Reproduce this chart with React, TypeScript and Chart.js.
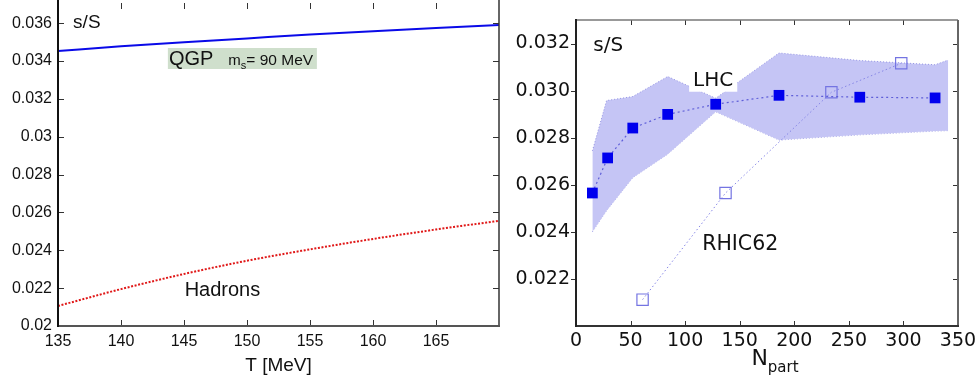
import { useEffect, useRef } from "react";
import { Chart, registerables } from "chart.js";

Chart.register(...registerables);

// ---- Left panel: s/S versus temperature ----
const temperatures = [135, 140, 145, 150, 155, 160, 165, 170];
const qgpRatio = [0.03453, 0.03478, 0.035, 0.0352, 0.0354, 0.03558, 0.03575, 0.03591];
const hadronRatio = [0.02106, 0.02195, 0.02275, 0.02345, 0.02405, 0.0246, 0.0251, 0.02556];
const tempTicks = [135, 140, 145, 150, 155, 160, 165];
const leftRatioTicks = [0.02, 0.022, 0.024, 0.026, 0.028, 0.03, 0.032, 0.034, 0.036];

// ---- Right panel: s/S versus number of participants ----
const lhcNpart = [15, 29, 52, 84, 128, 186, 260, 329];
const lhcRatio = [0.02565, 0.02714, 0.02841, 0.02899, 0.02942, 0.0298, 0.02972, 0.02969];
const rhicNpart = [61, 137, 234, 298];
const rhicRatio = [0.02112, 0.02565, 0.02993, 0.03116];
const bandNpart = [15, 28, 52, 84, 128, 186, 260, 329, 341];
const bandUpper = [0.02744, 0.02958, 0.02975, 0.0306, 0.02968, 0.0316, 0.03128, 0.0311, 0.0313];
const bandLower = [0.024, 0.0249, 0.0263, 0.0273, 0.0291, 0.0279, 0.02812, 0.02828, 0.0283];
const npartTicks = [0, 50, 100, 150, 200, 250, 300, 350];
const rightRatioTicks = [0.022, 0.024, 0.026, 0.028, 0.03, 0.032];

const LEFT_FONT = '"Liberation Sans", Arial, sans-serif';
const RIGHT_FONT = '"DejaVu Sans", sans-serif';
const INK = "#111";

type Side = { color: string; width: number };

function drawFrame(
  chart: any,
  sides: { left: Side; right: Side; top: Side | null; bottom: Side },
  xTicks: number[],
  yTicks: number[],
  tickLen: number,
  leftOutward: boolean
) {
  const { ctx, chartArea: a, scales } = chart;
  const xs = scales.x;
  const ys = scales.y;
  ctx.save();
  ctx.lineCap = "butt";
  // tick marks
  ctx.strokeStyle = "#333";
  ctx.lineWidth = 1;
  for (const v of yTicks) {
    const py = Math.round(ys.getPixelForValue(v)) + 0.5;
    ctx.beginPath();
    if (leftOutward) {
      ctx.moveTo(a.left - tickLen, py);
      ctx.lineTo(a.left, py);
    } else {
      ctx.moveTo(a.left, py);
      ctx.lineTo(a.left + tickLen, py);
    }
    ctx.moveTo(a.right, py);
    ctx.lineTo(a.right - tickLen, py);
    ctx.stroke();
  }
  for (const v of xTicks) {
    const px = Math.round(xs.getPixelForValue(v)) + 0.5;
    ctx.beginPath();
    ctx.moveTo(px, a.bottom);
    ctx.lineTo(px, a.bottom - tickLen);
    ctx.moveTo(px, a.top);
    ctx.lineTo(px, a.top + tickLen);
    ctx.stroke();
  }
  // frame
  const line = (s: Side, x1: number, y1: number, x2: number, y2: number) => {
    ctx.strokeStyle = s.color;
    ctx.lineWidth = s.width;
    ctx.beginPath();
    ctx.moveTo(x1, y1);
    ctx.lineTo(x2, y2);
    ctx.stroke();
  };
  if (sides.top) line(sides.top, a.left, a.top, a.right, a.top);
  line(sides.right, a.right, sides.top ? a.top : 0, a.right, a.bottom);
  line(sides.bottom, a.left, a.bottom, a.right + 1, a.bottom);
  line(sides.left, a.left, sides.top ? a.top - 1 : 0, a.left, a.bottom + 1);
  ctx.restore();
}

const leftDecor = {
  id: "leftDecor",
  afterDatasetsDraw(chart: any) {
    const { ctx, chartArea: a, scales } = chart;
    const xs = scales.x;
    const ys = scales.y;
    ctx.save();
    ctx.fillStyle = INK;
    ctx.textBaseline = "middle";
    ctx.textAlign = "left";

    ctx.font = `19px ${LEFT_FONT}`;
    ctx.fillText("s/S", xs.getPixelForValue(136.2), ys.getPixelForValue(0.036));

    // QGP label on a tinted box
    const qx = xs.getPixelForValue(143.8);
    const qy = ys.getPixelForValue(0.03411);
    ctx.fillStyle = "#cfdfcc";
    ctx.fillRect(qx - 1, qy - 11, 149, 21);
    ctx.fillStyle = INK;
    ctx.font = `20px ${LEFT_FONT}`;
    ctx.fillText("QGP", qx, qy);
    let cx = qx + ctx.measureText("QGP").width + 15;
    ctx.textBaseline = "alphabetic";
    ctx.font = `15px ${LEFT_FONT}`;
    ctx.fillText("m", cx, qy + 5.5);
    cx += ctx.measureText("m").width;
    ctx.font = `11px ${LEFT_FONT}`;
    ctx.fillText("s", cx, qy + 9.5);
    cx += ctx.measureText("s").width;
    ctx.font = `15.5px ${LEFT_FONT}`;
    ctx.fillText("= 90 MeV", cx, qy + 5.5);

    ctx.textBaseline = "middle";
    ctx.font = `20px ${LEFT_FONT}`;
    ctx.fillText("Hadrons", xs.getPixelForValue(145.05), ys.getPixelForValue(0.02188));

    ctx.textAlign = "center";
    ctx.textBaseline = "alphabetic";
    ctx.font = `19px ${LEFT_FONT}`;
    ctx.fillText("T [MeV]", (a.left + a.right) / 2, a.bottom + 45);
    ctx.restore();
  },
  afterDraw(chart: any) {
    drawFrame(
      chart,
      {
        left: { color: "#111", width: 2 },
        right: { color: "#333", width: 1.5 },
        top: null,
        bottom: { color: "#555", width: 2 },
      },
      tempTicks,
      leftRatioTicks,
      6,
      false
    );
  },
};

const rightDecor = {
  id: "rightDecor",
  afterDatasetsDraw(chart: any) {
    const { ctx, chartArea: a, scales } = chart;
    const xs = scales.x;
    const ys = scales.y;
    ctx.save();
    ctx.fillStyle = INK;
    ctx.textBaseline = "middle";
    ctx.textAlign = "left";

    ctx.font = `20px ${RIGHT_FONT}`;
    ctx.fillText("s/S", xs.getPixelForValue(15.8), ys.getPixelForValue(0.0319));

    // LHC label sits on a white patch above the band
    const lx = xs.getPixelForValue(107.3);
    const ly = ys.getPixelForValue(0.03042);
    ctx.font = `20px ${RIGHT_FONT}`;
    const lw = ctx.measureText("LHC").width;
    ctx.fillStyle = "#fff";
    ctx.fillRect(lx - 4, ly - 15, lw + 8, 26);
    ctx.fillStyle = INK;
    ctx.fillText("LHC", lx, ly);

    ctx.font = `20.5px ${RIGHT_FONT}`;
    ctx.fillText("RHIC62", xs.getPixelForValue(115.6), ys.getPixelForValue(0.02346));

    // axis title N_part
    ctx.textBaseline = "alphabetic";
    ctx.font = `22px ${RIGHT_FONT}`;
    const nw = ctx.measureText("N").width;
    ctx.font = `15px ${RIGHT_FONT}`;
    const pw = ctx.measureText("part").width;
    const start = (a.left + a.right) / 2 + 8 - (nw + pw) / 2;
    ctx.font = `22px ${RIGHT_FONT}`;
    ctx.fillText("N", start, a.bottom + 39);
    ctx.font = `15px ${RIGHT_FONT}`;
    ctx.fillText("part", start + nw, a.bottom + 46);
    ctx.restore();
  },
  afterDraw(chart: any) {
    drawFrame(
      chart,
      {
        left: { color: "#222", width: 2 },
        right: { color: "#666", width: 2 },
        top: { color: "#777", width: 1.5 },
        bottom: { color: "#333", width: 2 },
      },
      npartTicks,
      rightRatioTicks,
      5,
      true
    );
  },
};

function fixedTicks(values: number[]) {
  return (scale: any) => {
    scale.ticks = values.map((v) => ({ value: v }));
  };
}

// Fixed axis box sizes, with no extra room reserved for overhanging labels
function fixHeight(h: number) {
  return (s: any) => {
    s.height = h;
    s.paddingLeft = 0;
    s.paddingRight = 0;
    s.paddingTop = 0;
    s.paddingBottom = 0;
  };
}
function fixWidth(w: number) {
  return (s: any) => {
    s.width = w;
    s.paddingLeft = 0;
    s.paddingRight = 0;
    s.paddingTop = 0;
    s.paddingBottom = 0;
  };
}

function leftConfig(): any {
  return {
    type: "line",
    data: {
      datasets: [
        {
          data: temperatures.map((t, i) => ({ x: t, y: qgpRatio[i] })),
          borderColor: "#0a0ae8",
          borderWidth: 2,
          pointRadius: 0,
          tension: 0.4,
          cubicInterpolationMode: "monotone",
          fill: false,
        },
        {
          data: temperatures.map((t, i) => ({ x: t, y: hadronRatio[i] })),
          borderColor: "#e01818",
          borderWidth: 2,
          borderDash: [2, 1.6],
          pointRadius: 0,
          tension: 0.4,
          cubicInterpolationMode: "monotone",
          fill: false,
        },
      ],
    },
    options: {
      animation: false,
      responsive: false,
      maintainAspectRatio: false,
      events: [],
      layout: { padding: { left: 0, right: 6, top: 3, bottom: 0 } },
      plugins: { legend: { display: false }, tooltip: { enabled: false } },
      scales: {
        x: {
          type: "linear",
          min: 135,
          max: 170,
          grid: { display: false, drawTicks: false },
          border: { display: false },
          afterBuildTicks: fixedTicks(tempTicks),
          afterFit: fixHeight(50),
          ticks: {
            padding: 6,
            autoSkip: false,
            maxRotation: 0,
            color: INK,
            font: { family: LEFT_FONT, size: 16 },
            callback: (v: any) => String(v),
          },
        },
        y: {
          type: "linear",
          min: 0.02,
          max: 0.03707,
          grid: { display: false, drawTicks: false },
          border: { display: false },
          afterBuildTicks: fixedTicks(leftRatioTicks),
          afterFit: fixWidth(58),
          ticks: {
            padding: 6,
            autoSkip: false,
            color: INK,
            font: { family: LEFT_FONT, size: 16 },
            callback: (v: any) => String(Number(Number(v).toFixed(3))),
          },
        },
      },
    },
    plugins: [leftDecor],
  };
}

function rightConfig(): any {
  const bandStyle = {
    borderColor: "rgba(125,125,220,0.75)",
    borderWidth: 1,
    borderDash: [1, 2],
    pointRadius: 0,
    tension: 0,
  };
  return {
    type: "line",
    data: {
      datasets: [
        {
          data: lhcNpart.map((n, i) => ({ x: n, y: lhcRatio[i] })),
          borderColor: "#5e5ed8",
          borderWidth: 1.2,
          borderDash: [2, 3],
          pointStyle: "rect",
          pointRadius: 7.6,
          pointBackgroundColor: "#0000ee",
          pointBorderWidth: 0,
          tension: 0,
          fill: false,
        },
        {
          data: rhicNpart.map((n, i) => ({ x: n, y: rhicRatio[i] })),
          borderColor: "#8686e6",
          borderWidth: 1,
          borderDash: [1.5, 2.5],
          pointStyle: "rect",
          pointRadius: 8,
          pointBackgroundColor: "rgba(255,255,255,0)",
          pointBorderColor: "#7474e2",
          pointBorderWidth: 1.2,
          tension: 0,
          fill: false,
        },
        {
          data: bandNpart.map((n, i) => ({ x: n, y: bandUpper[i] })),
          ...bandStyle,
          backgroundColor: "#c5c5f5",
          fill: "+1",
        },
        {
          data: bandNpart.map((n, i) => ({ x: n, y: bandLower[i] })),
          ...bandStyle,
          fill: false,
        },
      ],
    },
    options: {
      animation: false,
      responsive: false,
      maintainAspectRatio: false,
      events: [],
      layout: { padding: { left: 0, right: 20, top: 20, bottom: 0 } },
      plugins: { legend: { display: false }, tooltip: { enabled: false } },
      scales: {
        x: {
          type: "linear",
          min: 0,
          max: 350,
          grid: { display: false, drawTicks: false },
          border: { display: false },
          afterBuildTicks: fixedTicks(npartTicks),
          afterFit: fixHeight(50),
          ticks: {
            padding: 4,
            autoSkip: false,
            maxRotation: 0,
            color: INK,
            font: { family: RIGHT_FONT, size: 19 },
            callback: (v: any) => String(v),
          },
        },
        y: {
          type: "linear",
          min: 0.02,
          max: 0.033,
          grid: { display: false, drawTicks: false },
          border: { display: false },
          afterBuildTicks: fixedTicks(rightRatioTicks),
          afterFit: fixWidth(71),
          ticks: {
            padding: 6,
            autoSkip: false,
            color: INK,
            font: { family: RIGHT_FONT, size: 19 },
            callback: (v: any) => Number(v).toFixed(3),
          },
        },
      },
    },
    plugins: [rightDecor],
  };
}

export default function App() {
  const leftRef = useRef<HTMLCanvasElement>(null);
  const rightRef = useRef<HTMLCanvasElement>(null);

  useEffect(() => {
    const left = new Chart(leftRef.current as HTMLCanvasElement, leftConfig());
    const right = new Chart(rightRef.current as HTMLCanvasElement, rightConfig());
    return () => {
      left.destroy();
      right.destroy();
    };
  }, []);

  return (
    <div
      style={{
        position: "fixed",
        left: 0,
        top: 0,
        width: 978,
        height: 376,
        background: "#fff",
        overflow: "hidden",
      }}
    >
      <canvas
        ref={leftRef}
        width={505}
        height={376}
        style={{ position: "absolute", left: 0, top: 0, width: 505, height: 376 }}
      />
      <canvas
        ref={rightRef}
        width={473}
        height={376}
        style={{ position: "absolute", left: 505, top: 0, width: 473, height: 376 }}
      />
    </div>
  );
}
